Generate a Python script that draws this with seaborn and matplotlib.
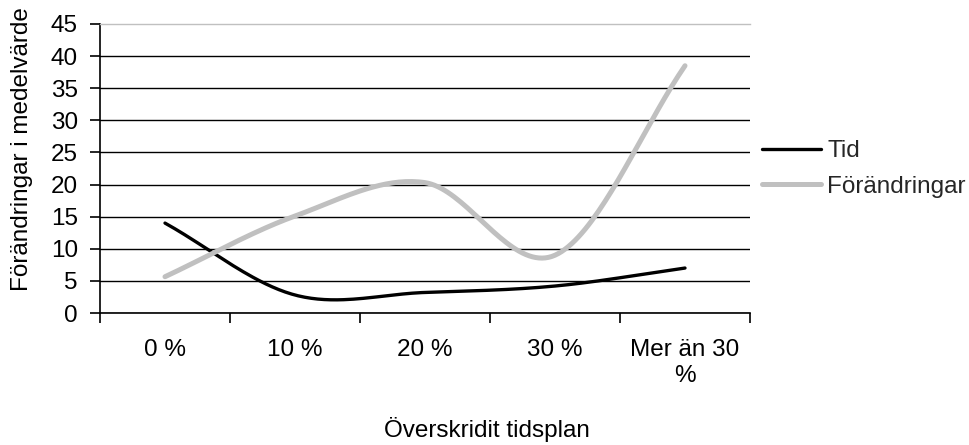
import numpy as np
import pandas as pd
import matplotlib
matplotlib.use("Agg")
import matplotlib.pyplot as plt
import seaborn as sns

# Category labels on the x axis and the two series (mean values)
categories = ["0 %", "10 %", "20 %", "30 %", "Mer än 30\n%"]
tid = [14.0, 2.8, 3.2, 4.2, 7.0]
forandringar = [5.65, 15.1, 20.3, 9.0, 38.5]
y_ticks = [0, 5, 10, 15, 20, 25, 30, 35, 40, 45]
series_names = ["Tid", "Förändringar"]


def smooth(values, steps=40):
    """Cardinal (Catmull-Rom) spline through the data points, like a smoothed line chart."""
    p = np.asarray(values, dtype=float)
    n = len(p)
    m = np.empty(n)
    m[1:-1] = (p[2:] - p[:-2]) / 2.0
    m[0] = p[1] - p[0]
    m[-1] = p[-1] - p[-2]
    xs, ys = [], []
    for i in range(n - 1):
        t = np.linspace(0.0, 1.0, steps, endpoint=(i == n - 2))
        h00 = 2 * t**3 - 3 * t**2 + 1
        h10 = t**3 - 2 * t**2 + t
        h01 = -2 * t**3 + 3 * t**2
        h11 = t**3 - t**2
        xs.append(i + t)
        ys.append(h00 * p[i] + h10 * m[i] + h01 * p[i + 1] + h11 * m[i + 1])
    return np.concatenate(xs), np.concatenate(ys)


sns.set_theme(style="white")
plt.rcParams["font.family"] = ["Liberation Sans", "DejaVu Sans"]
FS = 17.5

fig = plt.figure(figsize=(9.7, 4.45), dpi=100)
ax = fig.add_axes([100 / 970, 1 - 313 / 445, 650 / 970, 289 / 445])

frames = []
for name, vals in zip(series_names, [tid, forandringar]):
    x, y = smooth(vals)
    frames.append(pd.DataFrame({"x": x, "y": y, "serie": name}))
df = pd.concat(frames, ignore_index=True)

styles = {"Tid": ("#000000", 2.4), "Förändringar": ("#c0c0c0", 3.6)}
handles = []
for name in series_names:
    color, lw = styles[name]
    sns.lineplot(data=df[df["serie"] == name], x="x", y="y", ax=ax,
                 color=color, linewidth=lw, sort=False, estimator=None,
                 solid_capstyle="round", solid_joinstyle="round", zorder=3)
    handles.append(ax.lines[-1])

ax.set_xlim(-0.5, 4.5)
ax.set_ylim(0, 45)

# y axis
ax.set_yticks(y_ticks)
ax.set_yticklabels([str(v) for v in y_ticks])
ax.tick_params(axis="y", which="major", left=True, length=7, width=1.2,
               color="black", labelsize=FS, pad=9, labelcolor="black")
ax.yaxis.grid(True, color="black", linewidth=1.0)
ax.get_ygridlines()[-1].set_visible(False)

# x axis: boundary ticks, labels centred on categories
ax.set_xticks(np.arange(-0.5, 5.0, 1.0))
ax.set_xticklabels([])
ax.set_xticks(np.arange(len(categories)), minor=True)
ax.set_xticklabels(categories, minor=True, linespacing=1.2)
ax.tick_params(axis="x", which="major", bottom=True, length=7, width=1.2,
               color="black")
ax.tick_params(axis="x", which="minor", bottom=True, length=0,
               labelsize=FS, pad=19, labelcolor="black")
ax.xaxis.grid(False)

for side in ["left", "bottom"]:
    ax.spines[side].set_color("black")
    ax.spines[side].set_linewidth(1.2)
ax.spines["top"].set_color("#c0c0c0")
ax.spines["top"].set_linewidth(1.0)
ax.spines["right"].set_visible(False)

ax.set_xlabel("Överskridit tidsplan", fontsize=FS, color="black")
ax.xaxis.set_label_coords((487 - 100) / 650, (313 - 430) / 289)
ax.xaxis.label.set_va("center")
ax.set_ylabel("Förändringar i medelvärde", fontsize=FS, color="black")
ax.yaxis.set_label_coords((22 - 100) / 650, (313 - 149) / 289)
ax.yaxis.label.set_va("center")

leg = ax.legend(handles, series_names, loc="center left",
                bbox_to_anchor=(762 / 970, 1 - 169 / 445),
                bbox_transform=fig.transFigure, frameon=False,
                fontsize=FS, handlelength=59 / 24.3, handletextpad=6 / 24.3,
                labelspacing=(38 - 24.3) / 24.3, borderpad=0, borderaxespad=0)
for h in leg.get_lines():
    h.set_solid_capstyle("round")

fig.savefig("out.png", dpi=100, facecolor="white")
